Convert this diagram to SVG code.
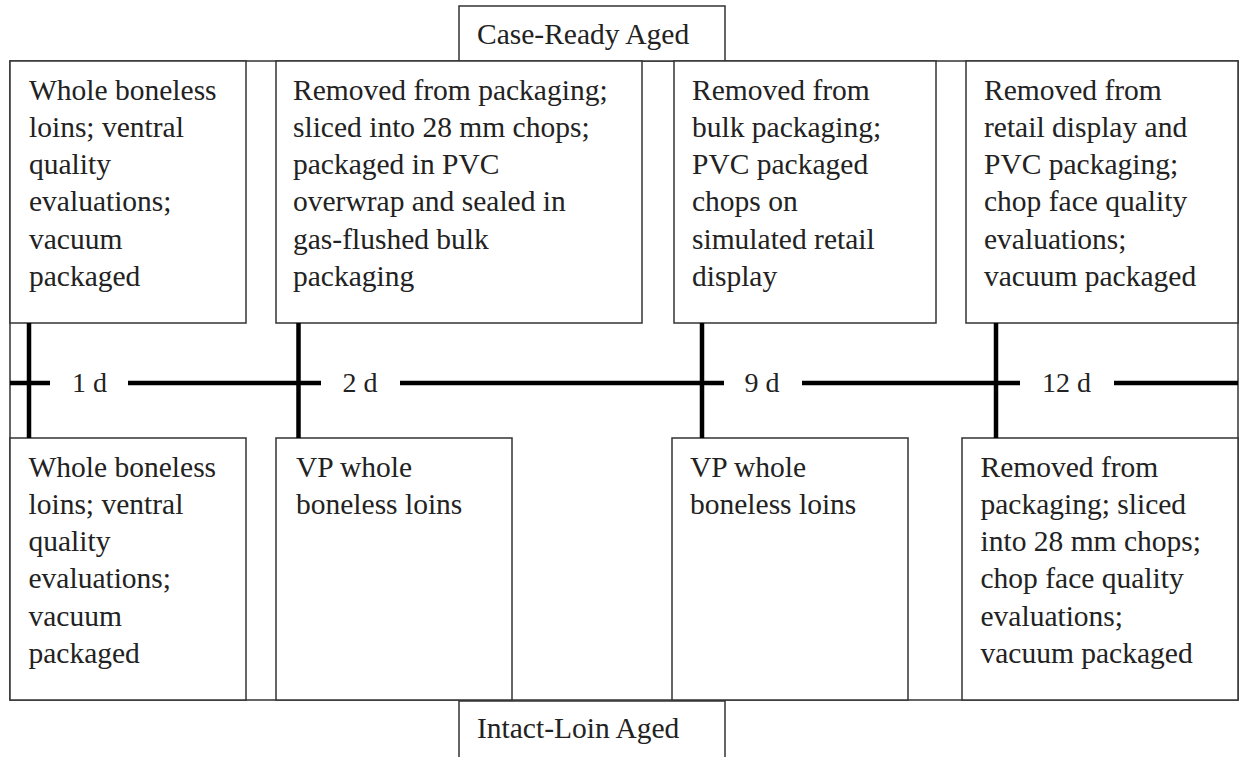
<svg xmlns="http://www.w3.org/2000/svg" width="1239" height="757" viewBox="0 0 1239 757">
<style>
.box{fill:#fff;stroke:#333;stroke-width:1.5}
.t{font-family:"Liberation Serif","Times New Roman",serif;font-size:29.5px;fill:#222}
.d{font-family:"Liberation Serif","Times New Roman",serif;font-size:28px;fill:#222;text-anchor:middle}
.tl{stroke:#000;stroke-width:4.5;fill:none}
</style>
<rect width="1239" height="757" fill="#fff"/>
<rect id="frame" class="box" x="10" y="61" width="1228" height="639"/>
<g id="case-ready-label">
<rect class="box" x="459" y="6" width="266" height="55"/>
<text class="t" x="477" y="44">Case-Ready Aged</text>
</g>
<g id="intact-loin-label">
<rect class="box" x="459" y="701" width="266" height="70"/>
<text class="t" x="477" y="738">Intact-Loin Aged</text>
</g>
<g id="top1">
<rect class="box" x="10" y="61" width="236" height="262"/>
<text class="t" x="29" y="99.5"><tspan x="29">Whole boneless</tspan><tspan x="29" dy="37.3">loins; ventral</tspan><tspan x="29" dy="37.3">quality</tspan><tspan x="29" dy="37.3">evaluations;</tspan><tspan x="29" dy="37.3">vacuum</tspan><tspan x="29" dy="37.3">packaged</tspan></text>
</g>
<g id="top2">
<rect class="box" x="276" y="61" width="366" height="262"/>
<text class="t" x="293" y="99.5"><tspan x="293">Removed from packaging;</tspan><tspan x="293" dy="37.3">sliced into 28 mm chops;</tspan><tspan x="293" dy="37.3">packaged in PVC</tspan><tspan x="293" dy="37.3">overwrap and sealed in</tspan><tspan x="293" dy="37.3">gas-flushed bulk</tspan><tspan x="293" dy="37.3">packaging</tspan></text>
</g>
<g id="top3">
<rect class="box" x="674" y="61" width="262" height="262"/>
<text class="t" x="692" y="99.5"><tspan x="692">Removed from</tspan><tspan x="692" dy="37.3">bulk packaging;</tspan><tspan x="692" dy="37.3">PVC packaged</tspan><tspan x="692" dy="37.3">chops on</tspan><tspan x="692" dy="37.3">simulated retail</tspan><tspan x="692" dy="37.3">display</tspan></text>
</g>
<g id="top4">
<rect class="box" x="966" y="61" width="272" height="262"/>
<text class="t" x="984" y="99.5"><tspan x="984">Removed from</tspan><tspan x="984" dy="37.3">retail display and</tspan><tspan x="984" dy="37.3">PVC packaging;</tspan><tspan x="984" dy="37.3">chop face quality</tspan><tspan x="984" dy="37.3">evaluations;</tspan><tspan x="984" dy="37.3">vacuum packaged</tspan></text>
</g>
<g id="bottom1">
<rect class="box" x="10" y="438" width="236" height="262"/>
<text class="t" x="28.5" y="476.5"><tspan x="28.5">Whole boneless</tspan><tspan x="28.5" dy="37.3">loins; ventral</tspan><tspan x="28.5" dy="37.3">quality</tspan><tspan x="28.5" dy="37.3">evaluations;</tspan><tspan x="28.5" dy="37.3">vacuum</tspan><tspan x="28.5" dy="37.3">packaged</tspan></text>
</g>
<g id="bottom2">
<rect class="box" x="276" y="438" width="236" height="262"/>
<text class="t" x="296" y="476.5"><tspan x="296">VP whole</tspan><tspan x="296" dy="37.3">boneless loins</tspan></text>
</g>
<g id="bottom3">
<rect class="box" x="672" y="438" width="236" height="262"/>
<text class="t" x="690" y="476.5"><tspan x="690">VP whole</tspan><tspan x="690" dy="37.3">boneless loins</tspan></text>
</g>
<g id="bottom4">
<rect class="box" x="962" y="438" width="276" height="262"/>
<text class="t" x="980.5" y="476.5"><tspan x="980.5">Removed from</tspan><tspan x="980.5" dy="37.3">packaging; sliced</tspan><tspan x="980.5" dy="37.3">into 28 mm chops;</tspan><tspan x="980.5" dy="37.3">chop face quality</tspan><tspan x="980.5" dy="37.3">evaluations;</tspan><tspan x="980.5" dy="37.3">vacuum packaged</tspan></text>
</g>
<g id="connectors">
<path class="tl" d="M29 323V438M298.5 323V438M702 323V438M996 323V438"/>
<path class="tl" d="M10 383H50M128 383H321M400 383H724M802 383H1020M1114 383H1238"/>
</g>
<g id="timeline-labels">
<text class="d" x="89.5" y="392">1 d</text>
<text class="d" x="360" y="392">2 d</text>
<text class="d" x="762" y="392">9 d</text>
<text class="d" x="1066.5" y="392">12 d</text>
</g>
</svg>
